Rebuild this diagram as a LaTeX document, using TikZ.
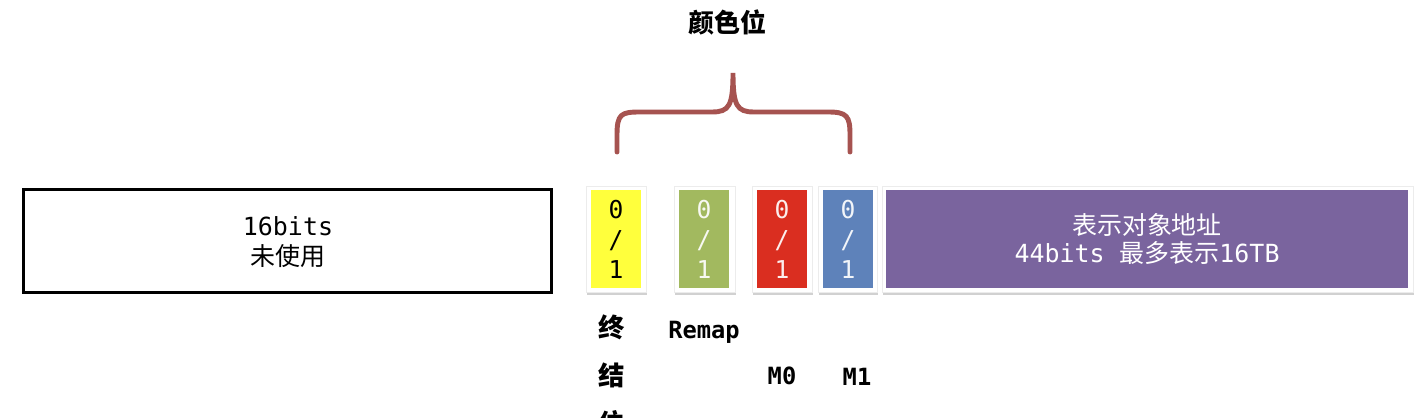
\documentclass[tikz,border=0pt]{standalone}
\usepackage{fontspec}
\setmainfont{DejaVu Sans}
\newfontfamily\monof{DejaVu Sans Mono}
\newfontfamily\cjk{Noto Sans CJK SC}
\usetikzlibrary{shadows}
\definecolor{cyellow}{HTML}{FFFF3C}
\definecolor{cgreen}{HTML}{A2B95F}
\definecolor{cred}{HTML}{DA2E20}
\definecolor{cblue}{HTML}{5E82BA}
\definecolor{cpurple}{HTML}{7A649E}
\definecolor{cbrace}{HTML}{A65350}
\tikzset{
  card/.style={fill=white, draw=gray!15, line width=0.4pt, inner sep=0pt, minimum height=2.12cm,
    drop shadow={shadow xshift=0.7pt, shadow yshift=-1.8pt, opacity=0.45, fill=gray!80}},
  cell/.style={inner sep=0pt, minimum width=1.0cm, minimum height=1.96cm,
    align=center, font=\monof\fontsize{14}{17.07}\selectfont},
  lbl/.style={inner sep=0pt, font=\monof\bfseries\fontsize{13.5}{16}\selectfont},
  bigtxt/.style={align=center, inner sep=0pt, font=\fontsize{14.2}{17.07}\selectfont},
}
\begin{document}
\begin{tikzpicture}[x=0.02cm, y=-0.02cm]
\useasboundingbox (0,0) rectangle (1426,418);
% unused 16 bits
\node[draw=black, line width=1.7pt, minimum width=10.58cm, minimum height=2.08cm, inner sep=0pt] (unused) at (287.5,241) {};
\node[bigtxt] (unusedtxt) at (288,242) {{\monof 16bits}\\{\cjk 未使用}};
% cards
\node[card, minimum width=1.20cm] (cardA) at (616,239) {};
\node[cell, fill=cyellow, text=black] (final) at (616,239) {0\\/\\1};
\node[card, minimum width=1.22cm] (cardB) at (704.5,239) {};
\node[cell, fill=cgreen, text=white!92!cgreen] (remap) at (704,239) {0\\/\\1};
\node[card, minimum width=1.20cm] (cardC) at (782,239) {};
\node[cell, fill=cred, text=white!92!cred] (mzero) at (782,239) {0\\/\\1};
\node[card, minimum width=1.18cm] (cardD) at (847.5,239) {};
\node[cell, fill=cblue, text=white!92!cblue] (mone) at (848,239) {0\\/\\1};
\node[card, minimum width=10.62cm] (cardE) at (1147.5,239) {};
\node[cell, fill=cpurple, minimum width=10.44cm, text=white, font=\fontsize{14.2}{15.6}\selectfont] (addr) at (1147,239)
  {{\cjk 表示对象地址}\\{\monof 44bits }{\cjk 最多表示}{\monof 16TB}};
% labels
\node[inner sep=0pt, align=center, font=\cjk\bfseries\fontsize{15}{27.3}\selectfont] (lfinal) at (612,375) {终\\结\\位};
\node[lbl] (lremap) at (704,332) {Remap};
\node[lbl] (lmzero) at (782,376) {M0};
\node[lbl] (lmone) at (857,377) {M1};
% brace
\coordinate (bl) at (617,152);
\coordinate (bt) at (733,73);
\coordinate (br) at (850,152);
\draw[cbrace, line width=2.8pt, line cap=round]
  (bl) -- (617,135) .. controls (617,114) and (621,112) .. (640,112) -- (712,112)
  .. controls (729,112) and (733,106) .. (bt)
  .. controls (733,106) and (737,112) .. (754,112) -- (828,112)
  .. controls (847,112) and (850,116) .. (850,135) -- (br);
\node[inner sep=0pt, font=\cjk\bfseries\fontsize{14.8}{16}\selectfont] (title) at (727,22) {颜色位};
\end{tikzpicture}
\end{document}
